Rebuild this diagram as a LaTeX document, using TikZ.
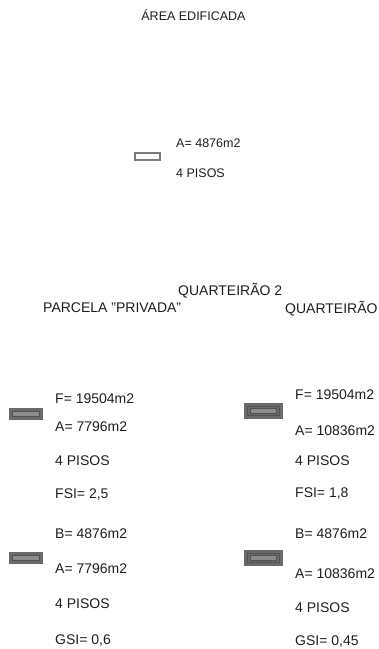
\documentclass[tikz,border=0pt]{standalone}
\usepackage{fontspec}
\setmainfont{Liberation Sans}
\definecolor{txt}{HTML}{1E1E1E}
\definecolor{bord}{HTML}{7A7A7A}
\definecolor{dk}{HTML}{6A6A6A}
\definecolor{mid}{HTML}{8C8C8C}
\definecolor{ln}{HTML}{505050}
\tikzset{
  small/.style={anchor=base west, inner sep=0pt, text=txt, font=\fontsize{12.5}{14}\selectfont},
  big/.style={anchor=base west, inner sep=0pt, text=txt, font=\fontsize{14}{16}\selectfont},
  bigc/.style={anchor=base, inner sep=0pt, text=txt, font=\fontsize{12.5}{14}\selectfont},
  emptyblock/.style={draw=bord, line width=2pt, fill=white},
  blockA/.style={fill=dk, draw=dk, line width=0.4pt},
  innerA/.style={fill=mid, draw=ln, line width=0.6pt},
}
\begin{document}
\begin{tikzpicture}[x=1pt,y=-1pt]
\useasboundingbox (0,0) rectangle (379,649);
% top group
\node[bigc] (title) at (193.5,20.5) {ÁREA EDIFICADA};
\draw[emptyblock] (135,153) rectangle (160,160);
\node[small] (ta) at (176,147.5) {A= 4876m2};
\node[small] (tp) at (176,177.5) {4 PISOS};
% titles
\node[big] (q2) at (178,295) {QUARTEIRÃO 2};
\node[big] (pp) at (43,312) {PARCELA "PRIVADA"};
\node[big] (qq) at (285,313) {QUARTEIRÃO};
% left column
\fill[blockA] (9,408) rectangle (42,419);
\draw[innerA] (12,411) rectangle (39,416);
\fill[blockA] (9,552) rectangle (42,563);
\draw[innerA] (12,555) rectangle (39,560);
\node[big] (l1) at (55,403) {F= 19504m2};
\node[big] (l2) at (55,431) {A= 7796m2};
\node[big] (l3) at (55,465) {4 PISOS};
\node[big] (l4) at (55,498) {FSI= 2,5};
\node[big] (l5) at (55,538) {B= 4876m2};
\node[big] (l6) at (55,573) {A= 7796m2};
\node[big] (l7) at (55,608) {4 PISOS};
\node[big] (l8) at (55,644) {GSI= 0,6};
% right column
\fill[blockA] (244,403) rectangle (282,418);
\draw[ln, line width=0.6pt] (247,406) rectangle (279,415);
\draw[innerA] (250,408) rectangle (276,413);
\fill[blockA] (244,550) rectangle (282,565);
\draw[ln, line width=0.6pt] (247,553) rectangle (279,562);
\draw[innerA] (250,555) rectangle (276,560);
\node[big] (r1) at (295,399) {F= 19504m2};
\node[big] (r2) at (295,435) {A= 10836m2};
\node[big] (r3) at (295,465) {4 PISOS};
\node[big] (r4) at (295,497) {FSI= 1,8};
\node[big] (r5) at (295,538) {B= 4876m2};
\node[big] (r6) at (295,578) {A= 10836m2};
\node[big] (r7) at (295,612) {4 PISOS};
\node[big] (r8) at (295,645) {GSI= 0,45};
\end{tikzpicture}
\end{document}
